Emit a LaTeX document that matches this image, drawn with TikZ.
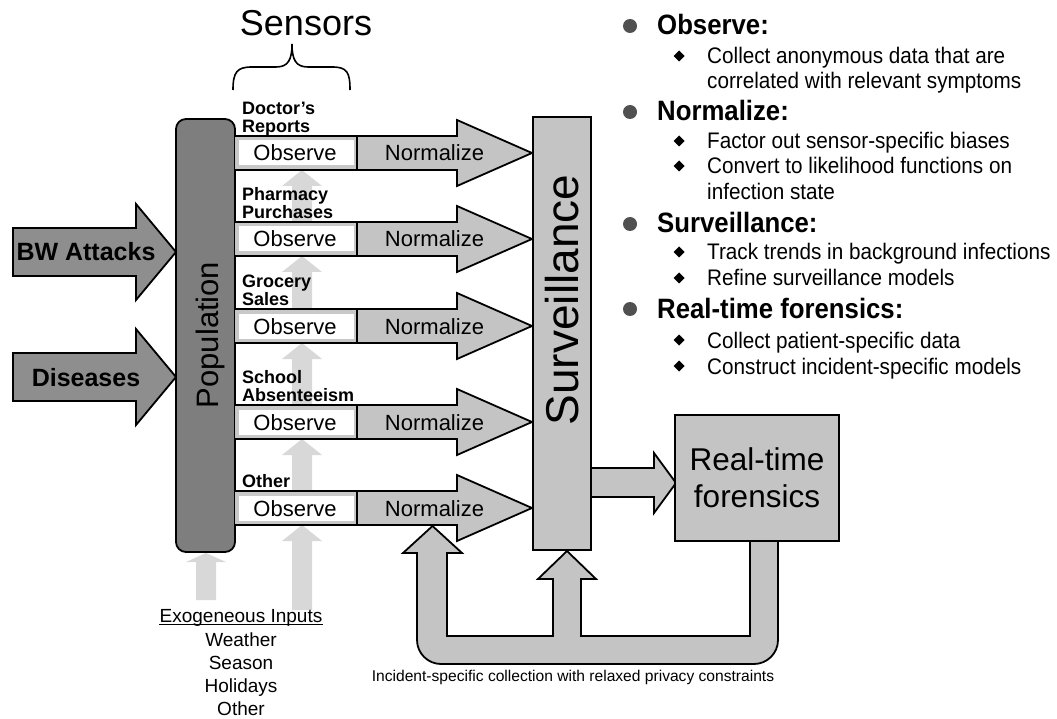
\documentclass[tikz,border=0pt]{standalone}
\usepackage{fontspec}
\setmainfont{Liberation Sans}
\newfontfamily\narrowfont[FakeStretch=0.92]{Liberation Sans}
\definecolor{darkfill}{HTML}{7E7E7E}
\definecolor{arrowdark}{HTML}{8E8E8E}
\definecolor{midfill}{HTML}{C4C4C4}
\definecolor{exofill}{HTML}{D8D8D8}
\definecolor{obsframe}{HTML}{C8C8C8}
\definecolor{bulletgray}{HTML}{505050}
\tikzset{
  outl/.style={draw=black, line width=1.8pt, line join=miter},
  lbl/.style={font=\bfseries\fontsize{18}{18}\selectfont, anchor=base west, inner sep=0pt},
  obstext/.style={font=\fontsize{22}{22}\selectfont, anchor=base, inner sep=0pt},
  bigtext/.style={font=\bfseries\fontsize{25}{25}\selectfont, anchor=base, inner sep=0pt},
  headtext/.style={font=\narrowfont\bfseries\fontsize{28}{28}\selectfont, anchor=base west, inner sep=0pt},
  subtext/.style={font=\narrowfont\fontsize{22.5}{22.5}\selectfont, anchor=base west, inner sep=0pt},
  smalltext/.style={font=\fontsize{19}{19}\selectfont, anchor=base, inner sep=0pt},
}
\newcommand\myexo[4]{\fill[exofill] (#1-10,#2) -- (#1-10,#3+#4) -- (#1-20,#3+#4) -- (#1,#3) -- (#1+20,#3+#4) -- (#1+10,#3+#4) -- (#1+10,#2) -- cycle;}
\newcommand\mybigarrow[1]{\filldraw[outl, fill=arrowdark] (13,#1-24) -- (136,#1-24) -- (136,#1-48) -- (176,#1) -- (136,#1+48) -- (136,#1+24) -- (13,#1+24) -- cycle;}
\newcommand\bigdot[1]{\fill[bulletgray] (630,#1) circle[radius=7pt];}
\newcommand\diam[1]{\fill[black] (679,#1-5.5) -- (684.5,#1) -- (679,#1+5.5) -- (673.5,#1) -- cycle;}
\begin{document}
\begin{tikzpicture}[x=1pt,y=-1pt]
\useasboundingbox (0,0) rectangle (1057,719);

% exogenous input arrows
\myexo{206}{600}{553}{9}
\foreach \t/\b in {222/170, 309/256, 405/343, 491/439, 610/525} {\myexo{302}{\t}{\b}{16}}

% external inputs
\mybigarrow{252}
\mybigarrow{377}
\node[bigtext] (bw) at (86,261) {BW Attacks};
\node[bigtext] (dis) at (86,386) {Diseases};

% population
\draw[outl, fill=darkfill, rounded corners=10pt] (176,119) rectangle (235,552);
\node[rotate=90, anchor=base, font=\fontsize{31}{31}\selectfont, inner sep=0pt] (pop) at (218,335) {Population};

% sensor rows
\foreach \c/\la/\lb [count=\i] in {153/Doctor’s/Reports, 239/Pharmacy/Purchases, 326/Grocery/Sales, 422/School/Absenteeism, 508//Other} {
  \filldraw[outl, fill=midfill] (235,\c-17) -- (457,\c-17) -- (457,\c-33) -- (532,\c) -- (457,\c+33) -- (457,\c+17) -- (235,\c+17);
  \fill[obsframe] (236,\c-16) rectangle (357,\c+16);
  \fill[white] (239,\c-12.5) rectangle (354,\c+12.5);
  \draw[outl] (357,\c-17) -- (357,\c+17);
  \node[obstext] (obs\i) at (295,\c+8) {Observe};
  \node[obstext] (norm\i) at (434.5,\c+8) {Normalize};
  \node[lbl] (lb\i) at (242,\c-20.5) {\lb};
  \node[lbl] (la\i) at (242,\c-38.5) {\la};
}

% surveillance
\draw[outl, line width=1.5pt, fill=midfill] (533,117) rectangle (591,550);
\node[rotate=90, anchor=base, font=\fontsize{46}{46}\selectfont, inner sep=0pt] (surv) at (578,300) {Surveillance};

% feedback loop
\filldraw[outl, fill=midfill] (778,541) -- (778,640) .. controls (778,653.2) and (767.2,664) .. (754,664)
  -- (441,664) .. controls (427.8,664) and (417,653.2) .. (417,640)
  -- (417,553) -- (403,553) -- (432.5,526) -- (462,553) -- (447,553) -- (447,636)
  -- (553,636) -- (553,579) -- (538,579) -- (567,551) -- (596,579) -- (581,579) -- (581,636)
  -- (750,636) -- (750,541) -- cycle;

% surveillance -> real-time forensics
\filldraw[outl, fill=midfill] (592,468) -- (654,468) -- (654,453) -- (676,483) -- (654,513) -- (654,497) -- (592,497);
\node[outl, fill=midfill, minimum width=164pt, minimum height=126pt, inner sep=0pt, align=center,
  font=\fontsize{31.5}{37}\selectfont] (rt) at (757,478) {Real-time\\forensics};

% sensors brace
\node[anchor=base, font=\fontsize{36}{36}\selectfont, inner sep=0pt] (sens) at (306,36) {Sensors};
\draw[line width=1.6pt] (233,90) .. controls (233,72) and (237,67) .. (252,67) -- (276,67)
  .. controls (288,67) and (292,60) .. (292,44) .. controls (292,60) and (296,67) .. (308,67)
  -- (332,67) .. controls (347,67) and (350,72) .. (350,90);

% exogenous inputs text
\node[smalltext] (exo) at (241,622) {Exogeneous Inputs};
\draw[line width=1.2pt] ([yshift=-2.5pt]exo.base west) -- ([yshift=-2.5pt]exo.base east);
\node[smalltext] (ex1) at (241,646.5) {Weather};
\node[smalltext] (ex2) at (241,669.5) {Season};
\node[smalltext] (ex3) at (241,692.5) {Holidays};
\node[smalltext] (ex4) at (241,715.5) {Other};

% incident text
\node[anchor=base, font=\fontsize{15.6}{15.6}\selectfont, inner sep=0pt] (inc) at (573,681.5) {Incident-specific collection with relaxed privacy constraints};

% right panel
\bigdot{26}\node[headtext] (h1) at (657,35) {Observe:};
\diam{56}\node[subtext] (s1) at (707,64) {Collect anonymous data that are};
\node[subtext] (s2) at (707,89) {correlated with relevant symptoms};
\bigdot{112}\node[headtext] (h2) at (657,121) {Normalize:};
\diam{141}\node[subtext] (s3) at (707,149) {Factor out sensor-specific biases};
\diam{166}\node[subtext] (s4) at (707,174) {Convert to likelihood functions on};
\node[subtext] (s5) at (707,200) {infection state};
\bigdot{224}\node[headtext] (h3) at (657,233) {Surveillance:};
\diam{252}\node[subtext] (s6) at (707,260) {Track trends in background infections};
\diam{278}\node[subtext] (s7) at (707,286) {Refine surveillance models};
\bigdot{309}\node[headtext] (h4) at (657,318) {Real-time forensics:};
\diam{340}\node[subtext] (s8) at (707,348) {Collect patient-specific data};
\diam{366}\node[subtext] (s9) at (707,374) {Construct incident-specific models};
\end{tikzpicture}
\end{document}
